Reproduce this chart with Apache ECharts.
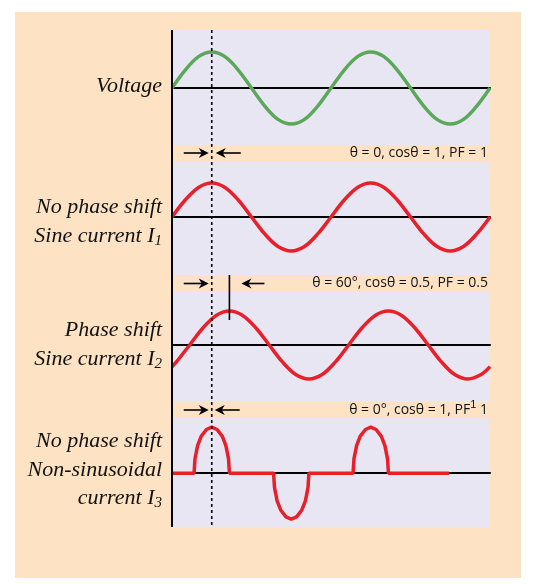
<!DOCTYPE html>
<html>
<head>
<meta charset="utf-8">
<script src="https://cdn.jsdelivr.net/npm/echarts@6/dist/echarts.min.js"></script>
<style>
  html, body { margin: 0; padding: 0; background: #fff; }
  #main { width: 535px; height: 586px; }
</style>
</head>
<body>
<div id="main"></div>
<script>
// phase angle in degrees (0..720 = two cycles)
var phase = [0, 30, 60, 90, 120, 150, 180, 210, 240, 270, 300, 330, 360, 390, 420, 450, 480, 510, 540, 570, 600, 630, 660, 690, 720];
var voltage = [0, .5, .87, 1, .87, .5, 0, -.5, -.87, -1, -.87, -.5, 0, .5, .87, 1, .87, .5, 0, -.5, -.87, -1, -.87, -.5, 0];
var current1 = [0, .5, .87, 1, .87, .5, 0, -.5, -.87, -1, -.87, -.5, 0, .5, .87, 1, .87, .5, 0, -.5, -.87, -1, -.87, -.5, 0];
// shifted current sampled on its own phase points
var phase2 = [0, 10, 40, 70, 100, 130, 160, 190, 220, 250, 280, 310, 340, 370, 400, 430, 460, 490, 520, 550, 580, 610, 640, 670, 700, 720];
var current2 = [-.64, -.5, 0, .5, .87, 1, .87, .5, 0, -.5, -.87, -1, -.87, -.5, 0, .5, .87, 1, .87, .5, 0, -.5, -.87, -1, -.87, -.64];
// non-sinusoidal current: [phase, value]
var current3 = [
  [0, 0], [50, 0], [52, .31], [58, .6], [66, .8], [78, .95], [90, 1], [102, .95], [114, .8], [122, .6], [128, .31], [130, 0],
  [230, 0], [232, -.31], [238, -.6], [246, -.8], [258, -.95], [270, -1], [282, -.95], [294, -.8], [302, -.6], [308, -.31], [310, 0],
  [410, 0], [412, .31], [418, .6], [426, .8], [438, .95], [450, 1], [462, .95], [474, .8], [482, .6], [488, .31], [490, 0],
  [627, 0]
];
var bandLabels = ['θ = 0, cosθ = 1, PF = 1', 'θ = 60°, cosθ = 0.5, PF = 0.5', 'θ = 0°, cosθ = 1, PF{sup|1} 1'];
var refPhase = 90, shiftedPeak = 130;

function pairs(xs, ys) { return xs.map(function (p, i) { return [p, ys[i]]; }); }

var grids = [
  { top: 30, height: 115, min: -1.58, max: 1.61 },
  { top: 162, height: 113, min: -1.71, max: 1.62 },
  { top: 292, height: 110, min: -1.68, max: 1.56 },
  { top: 418, height: 109, min: -1.17, max: 1.2 }
];
var data = [pairs(phase, voltage), pairs(phase, current1), pairs(phase2, current2), current3];
var colors = ['#5ba85a', '#e8202a', '#e8202a', '#e8202a'];

var chart = echarts.init(document.getElementById('main'));
chart.setOption({
  animation: false,
  grid: grids.map(function (g) {
    return { left: 172, width: 318, top: g.top, height: g.height, show: true,
      backgroundColor: '#e9e6f3', borderWidth: 0 };
  }),
  xAxis: grids.map(function (g, i) {
    return { type: 'value', gridIndex: i, min: 0, max: 720,
      axisLine: { onZero: true, lineStyle: { color: '#000', width: 2 } },
      axisTick: { show: false }, axisLabel: { show: false }, splitLine: { show: false } };
  }),
  yAxis: grids.map(function (g, i) {
    return { type: 'value', gridIndex: i, min: g.min, max: g.max, show: false };
  }),
  series: data.map(function (d, i) {
    return { type: 'line', xAxisIndex: i, yAxisIndex: i, data: d, showSymbol: false,
      smooth: i < 3 ? 0.35 : false, lineStyle: { color: colors[i], width: 3.5 }, z: 5 };
  })
});

var xRef = chart.convertToPixel({ xAxisIndex: 0 }, refPhase);
var xShift = chart.convertToPixel({ xAxisIndex: 2 }, shiftedPeak);

function arrow(x1, x2, y) {
  var dir = x2 > x1 ? 1 : -1;
  return [
    { type: 'line', shape: { x1: x1, y1: y, x2: x2 - dir * 6, y2: y }, style: { stroke: '#000', lineWidth: 1.6 }, z: 20 },
    { type: 'polygon', shape: { points: [[x2, y], [x2 - dir * 10, y - 5], [x2 - dir * 7, y], [x2 - dir * 10, y + 5]] },
      style: { fill: '#000' }, z: 20 }
  ];
}

var bandY = [153, 283.5, 410];
var g = [
  { type: 'rect', shape: { x: 15, y: 12, width: 506, height: 566 }, style: { fill: '#fde2c3' }, z: -10 },
  { type: 'line', shape: { x1: 172, y1: 30, x2: 172, y2: 527 }, style: { stroke: '#000', lineWidth: 2 }, z: 20 },
  { type: 'line', shape: { x1: xRef, y1: 30, x2: xRef, y2: 527 }, style: { stroke: '#000', lineWidth: 1.6, lineDash: [3, 3] }, z: 20 },
  { type: 'line', shape: { x1: xShift, y1: 275, x2: xShift, y2: 320 }, style: { stroke: '#000', lineWidth: 1.6 }, z: 20 }
];
g = g.concat(arrow(xRef - 28, xRef - 3, bandY[0]), arrow(xRef + 29, xRef + 4, bandY[0]));
g = g.concat(arrow(xRef - 28, xRef - 3, bandY[1]), arrow(xShift + 35, xShift + 12, bandY[1]));
g = g.concat(arrow(xRef - 28, xRef - 3, bandY[2]), arrow(xRef + 28, xRef + 3, bandY[2]));
bandLabels.forEach(function (t, i) {
  g.push({ type: 'text', x: 488, y: bandY[i], z: 20,
    style: { text: t, align: 'right', verticalAlign: 'middle', fill: '#111', fontSize: 14,
      fontFamily: 'Open Sans, sans-serif',
      rich: { sup: { fontSize: 11, verticalAlign: 'top', padding: [0, 0, 10, 0], fill: '#111' } } } });
});
var lbl = { align: 'right', verticalAlign: 'middle', fill: '#111', fontSize: 22, fontStyle: 'italic',
  fontFamily: 'Liberation Serif, serif',
  rich: { sub: { fontSize: 15, fontStyle: 'italic', fontFamily: 'Liberation Serif, serif', padding: [10, 0, 0, 0], fill: '#111' } } };
[
  ['Voltage', 86], ['No phase shift', 207], ['Sine current I{sub|1}', 236],
  ['Phase shift', 330], ['Sine current I{sub|2}', 359],
  ['No phase shift', 441], ['Non-sinusoidal', 470], ['current I{sub|3}', 498]
].forEach(function (r) {
  g.push({ type: 'text', x: 162, y: r[1], z: 20, style: Object.assign({ text: r[0] }, lbl) });
});
chart.setOption({ graphic: g });
</script>
</body>
</html>
